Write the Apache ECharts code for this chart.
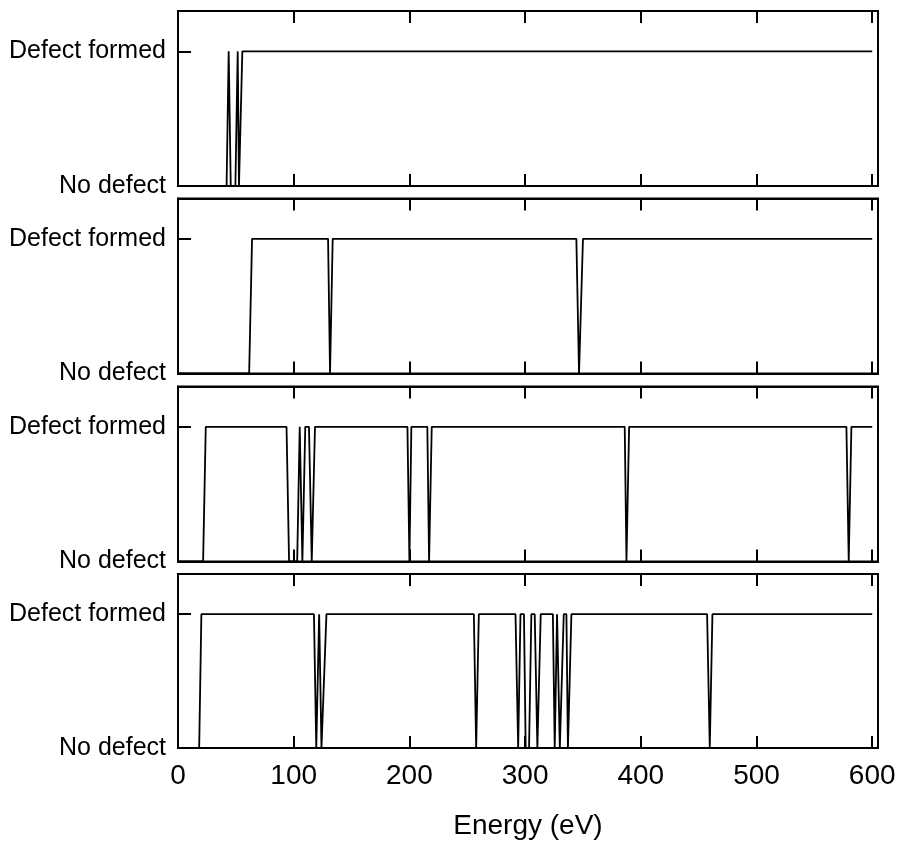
<!DOCTYPE html>
<html>
<head>
<meta charset="utf-8">
<script src="https://cdn.jsdelivr.net/npm/echarts@6/dist/echarts.min.js"></script>
<style>
  html, body { margin: 0; padding: 0; background: #fff; }
  #chart { width: 899px; height: 841px; }
</style>
</head>
<body>
<div id="chart"></div>
<script>
// ---- data ----
const energyTicks = [0, 100, 200, 300, 400, 500, 600];
const stateLabels = ['No defect', 'Defect formed'];
const xAxisName = 'Energy (eV)';

// [energy (eV), state] breakpoints (0 = No defect, 1 = Defect formed)
const run1 = [[0,0],[42,0],[43.8,1],[45.6,0],[49.6,0],[51.6,1],[52.7,0],[53.9,0],[55.6,1],[600,1]];
const run2 = [[0,0],[61.5,0],[64,1],[129.7,1],[131.4,0],[133.7,1],[344.3,1],[346.6,0],[348,0],[350,1],[600,1]];
const run3 = [[0,0],[21.7,0],[24,1],[93.8,1],[96,0],[103,0],[105.2,1],[107.5,0],[108.8,0],[110,1],[113.2,1],[115.6,0],[116.8,0],[118.4,1],
              [198.3,1],[200,0],[201.7,1],[215.5,1],[217,0],[219.3,1],[386.1,1],[387.6,0],[389.9,1],[577.7,1],[579.7,0],[582,1],[600,1]];
const run4 = [[0,0],[18.3,0],[20.2,1],[117.5,1],[119.5,0],[122,1],[124,0],[125.7,0],[128.3,1],[255.7,1],[257.7,0],[260,1],
              [291.7,1],[294,0],[296,1],[299,1],[300.5,0],[303.4,0],[305.4,1],[308.3,1],[310.6,0],[311.2,0],[313.5,1],
              [324,1],[325.6,0],[327.6,1],[330,0],[331,0],[333.4,1],[335.7,1],[337,0],[340,1],[457.3,1],[459.6,0],[461.9,1],[600,1]];
const runs = [run1, run2, run3, run4];

// ---- layout ----
const FONT = 'Liberation Sans, Arial, Helvetica, sans-serif';
const gridTops = [11, 198.5, 386.5, 574];
const gridH = 175;
const gridLeft = 178, gridW = 700;

const grids = [], xAxes = [], yAxes = [], series = [];
runs.forEach((run, i) => {
  grids.push({ left: gridLeft, top: gridTops[i], width: gridW, height: gridH,
               show: true, borderColor: '#000', borderWidth: 2, backgroundColor: 'transparent' });
  const isLast = i === runs.length - 1;
  // bottom x axis
  xAxes.push({
    type: 'value', gridIndex: i, position: 'bottom', min: 0, max: 605,
    name: isLast ? xAxisName : '', nameLocation: 'middle', nameGap: 64,
    nameTextStyle: { fontFamily: FONT, fontSize: 28, color: '#000' },
    axisLine: { show: true, lineStyle: { color: '#000', width: 2 } },
    axisTick: { show: true, inside: true, length: 12, customValues: energyTicks, lineStyle: { color: '#000', width: 2 } },
    axisLabel: { show: isLast, customValues: energyTicks, margin: 14, fontFamily: FONT, fontSize: 28, color: '#000' },
    splitLine: { show: false }
  });
  // top x axis (ticks only)
  xAxes.push({
    type: 'value', gridIndex: i, position: 'top', min: 0, max: 605,
    axisLine: { show: true, lineStyle: { color: '#000', width: 2 } },
    axisTick: { show: true, inside: true, length: 12, customValues: energyTicks, lineStyle: { color: '#000', width: 2 } },
    axisLabel: { show: false },
    splitLine: { show: false }
  });
  yAxes.push({
    type: 'value', gridIndex: i, min: 0, max: 1.3,
    axisLine: { show: true, lineStyle: { color: '#000', width: 2 } },
    axisTick: { show: true, inside: true, length: 13, customValues: [1], lineStyle: { color: '#000', width: 2 } },
    axisLabel: { show: true, customValues: [0, 1], margin: 12, fontFamily: FONT, fontSize: 25, color: '#000',
                 formatter: v => stateLabels[Math.round(v)] },
    splitLine: { show: false }
  });
  series.push({
    type: 'line', xAxisIndex: i * 2, yAxisIndex: i, data: run,
    showSymbol: false, symbol: 'none', silent: true,
    lineStyle: { color: '#000', width: 1.8 }
  });
});

const chart = echarts.init(document.getElementById('chart'), null, { renderer: 'canvas' });
chart.setOption({
  animation: false,
  backgroundColor: '#fff',
  grid: grids, xAxis: xAxes, yAxis: yAxes, series: series
});
</script>
</body>
</html>
